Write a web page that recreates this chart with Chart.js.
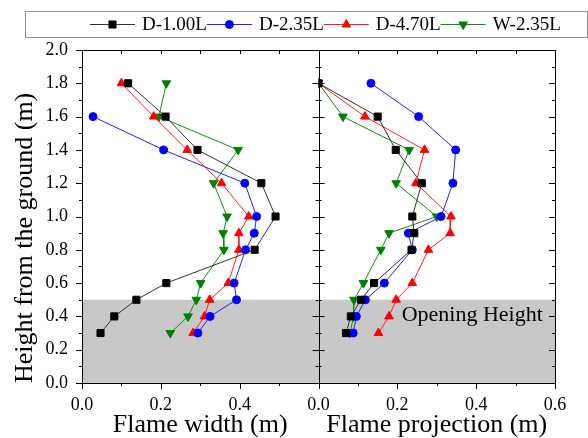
<!DOCTYPE html>
<html>
<head>
<meta charset="utf-8">
<script src="https://cdn.jsdelivr.net/npm/chart.js@4.4.1/dist/chart.umd.min.js"></script>
<style>
  html, body { margin: 0; padding: 0; background: #fff; }
  #wrap { width: 588px; height: 438px; }
</style>
</head>
<body>
<div id="wrap"><canvas id="flame"></canvas></div>
<script>
// heights above the ground (m) where the flame was measured
const heights = [1.8, 1.6, 1.4, 1.2, 1.0, 0.9, 0.8, 0.6, 0.5, 0.4, 0.3];

// flame width (m), null where there is no reading
const widthD100 = [0.117, 0.212, 0.293, 0.455, 0.491, null, 0.438, 0.214, 0.138, 0.082, 0.047];
const widthD235 = [null, 0.028, 0.207, 0.413, 0.443, 0.437, 0.415, 0.386, 0.392, 0.325, 0.294];
const widthD470 = [0.100, 0.182, 0.267, 0.354, 0.423, 0.398, 0.398, 0.371, 0.324, 0.311, 0.282];
const widthW235 = [0.214, 0.195, 0.396, 0.334, 0.368, 0.358, 0.360, 0.301, 0.290, 0.269, 0.224];

// flame projection (m)
const projD100 = [0.000, 0.150, 0.196, 0.262, 0.238, 0.243, 0.236, 0.141, 0.108, 0.082, 0.070];
const projD235 = [0.133, 0.254, 0.348, 0.341, 0.311, 0.228, 0.238, 0.167, 0.119, 0.096, 0.088];
const projD470 = [0.000, 0.118, 0.269, 0.247, 0.336, 0.334, 0.279, 0.238, 0.197, 0.179, 0.152];
const projW235 = [0.000, 0.062, 0.230, 0.197, 0.300, 0.179, 0.158, 0.114, 0.090, 0.089, 0.080];

const seriesNames = ['D-1.00L', 'D-2.35L', 'D-4.70L', 'W-2.35L'];
const markerColors = ['#000000', '#0000ff', '#ff0000', '#008000'];
const lineColors = ['#333333', '#2020ff', '#ff2020', '#109010'];
const markerStyles = ['rect', 'circle', 'triangle', 'triangle'];
const markerRotation = [0, 0, 0, 180];
const markerRadius = [5, 4, 5, 5];

const openingHeight = 0.5;
const openingLabel = 'Opening Height';

const serif = "'Liberation Serif', 'Times New Roman', serif";
Chart.defaults.font.family = serif;
Chart.defaults.color = '#000';

function toPoints(values) {
    const pts = [];
    values.forEach((v, i) => {
        if (v !== null) pts.push({x: v, y: heights[i]});
    });
    return pts;
}

function makeSet(i, values, axis) {
    return {
        label: seriesNames[i],
        data: toPoints(values),
        xAxisID: axis,
        showLine: true,
        borderColor: lineColors[i],
        borderWidth: 1,
        pointStyle: markerStyles[i],
        rotation: markerRotation[i],
        pointRadius: markerRadius[i],
        pointHoverRadius: markerRadius[i],
        pointBackgroundColor: markerColors[i],
        pointBorderColor: markerColors[i],
        pointBorderWidth: 1
    };
}

const widthSets = [widthD100, widthD235, widthD470, widthW235];
const projSets = [projD100, projD235, projD470, projW235];

const datasets = [];
widthSets.forEach((s, i) => datasets.push(makeSet(i, s, 'xw')));
projSets.forEach((s, i) => datasets.push(makeSet(i, s, 'xp')));

// shaded opening zone, frame with tick marks, and the boxed legend
const panelPlugin = {
    id: 'panels',
    beforeDatasetsDraw(chart) {
        const {ctx, chartArea: a, scales} = chart;
        const top = scales.y.getPixelForValue(openingHeight);
        const bottom = scales.y.getPixelForValue(0);
        ctx.save();
        ctx.fillStyle = '#c8c8c8';
        ctx.fillRect(a.left, top, a.right - a.left, bottom - top);
        ctx.fillStyle = '#000';
        ctx.font = '22px ' + serif;
        ctx.textAlign = 'center';
        ctx.textBaseline = 'middle';
        ctx.fillText(openingLabel, scales.xp.getPixelForValue(0.39), scales.y.getPixelForValue(0.41));
        ctx.restore();
    },
    afterDraw(chart) {
        const {ctx, chartArea: a, scales} = chart;
        const mid = scales.xp.left;
        ctx.save();
        ctx.strokeStyle = '#000';
        ctx.lineWidth = 1;
        ctx.strokeRect(Math.round(a.left) + 0.5, Math.round(a.top) + 0.5,
            Math.round(a.right - a.left), Math.round(a.bottom - a.top));
        ctx.beginPath();
        ctx.moveTo(Math.round(mid) + 0.5, a.top);
        ctx.lineTo(Math.round(mid) + 0.5, a.bottom);

        // vertical axis ticks every 0.1
        for (let i = 0; i <= 20; i++) {
            const py = Math.round(scales.y.getPixelForValue(i / 10)) + 0.5;
            const len = i % 2 === 0 ? 6 : 3;
            ctx.moveTo(a.left - len, py); ctx.lineTo(a.left, py);
            ctx.moveTo(a.right - len, py); ctx.lineTo(a.right, py);
            ctx.moveTo(mid - len, py); ctx.lineTo(mid + len, py);
        }
        // horizontal axis ticks on both panels
        [scales.xw, scales.xp].forEach(sc => {
            for (let i = 0; i <= 6; i++) {
                const px = Math.round(sc.getPixelForValue(i / 10)) + 0.5;
                const len = i % 2 === 0 ? 6 : 3;
                ctx.moveTo(px, a.bottom); ctx.lineTo(px, a.bottom + len);
                ctx.moveTo(px, a.top); ctx.lineTo(px, a.top + 4);
            }
        });
        ctx.stroke();

        // legend
        ctx.strokeStyle = '#909090';
        ctx.strokeRect(25.5, 11.5, 562, 26);
        ctx.font = '19px ' + serif;
        ctx.textBaseline = 'middle';
        ctx.textAlign = 'left';
        let x = 90;
        const y = 24.5;
        seriesNames.forEach((name, i) => {
            ctx.strokeStyle = lineColors[i];
            ctx.beginPath();
            ctx.moveTo(x, y);
            ctx.lineTo(x + 45, y);
            ctx.stroke();
            ctx.fillStyle = markerColors[i];
            ctx.strokeStyle = markerColors[i];
            Chart.helpers.drawPoint(ctx, {
                pointStyle: markerStyles[i],
                rotation: markerRotation[i],
                radius: markerRadius[i],
                borderWidth: 1
            }, x + 22.5, y);
            ctx.fillStyle = '#000';
            ctx.fillText(name, x + 52, y + 1);
            x += 52 + ctx.measureText(name).width;
        });
        ctx.restore();
    }
};

function xScale(title, lastLabel) {
    return {
        type: 'linear',
        position: 'bottom',
        stack: 'panels',
        stackWeight: 1,
        min: 0,
        max: 0.6,
        grid: {display: false, drawTicks: false},
        border: {display: false},
        afterFit(scale) { scale.height = 55; },
        ticks: {
            stepSize: 0.2,
            padding: 11,
            maxRotation: 0,
            font: {size: 18},
            callback: v => (!lastLabel && v > 0.55) ? '' : v.toFixed(1)
        },
        title: {
            display: true,
            text: title,
            font: {size: 26, lineHeight: 1},
            padding: {top: 0, bottom: 0}
        }
    };
}

new Chart(document.getElementById('flame').getContext('2d'), {
    type: 'scatter',
    data: {datasets: datasets},
    plugins: [panelPlugin],
    options: {
        responsive: true,
        maintainAspectRatio: false,
        animation: false,
        layout: {padding: {left: 10, right: 33, top: 50, bottom: 0}},
        plugins: {
            legend: {display: false},
            tooltip: {enabled: false}
        },
        scales: {
            xw: xScale('Flame width (m)', false),
            xp: xScale('Flame projection (m)', true),
            y: {
                min: 0,
                max: 2,
                grid: {display: false, drawTicks: false},
                border: {display: false},
                afterFit(scale) { scale.width = 72; },
                ticks: {
                    stepSize: 0.2,
                    padding: 14,
                    font: {size: 18},
                    callback: v => v.toFixed(1)
                },
                title: {
                    display: true,
                    text: 'Height from the ground (m)',
                    align: 'start',
                    font: {size: 26, lineHeight: 1},
                    padding: {top: 2, bottom: 0}
                }
            }
        }
    }
});
</script>
</body>
</html>
